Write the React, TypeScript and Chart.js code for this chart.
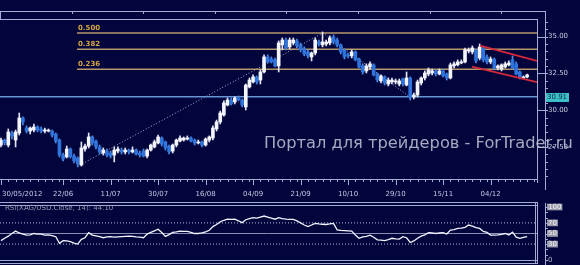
import React, { useEffect, useRef } from 'react';
import { Chart, registerables } from 'chart.js';

Chart.register(...registerables);

// ---------------- data ----------------
const opens = [
  27.63, 27.97, 27.63, 28.45, 27.97, 28.45, 29.47, 28.79, 28.58, 28.65,
  28.86, 28.72, 28.58, 28.58, 28.58, 28.38, 27.97, 26.95, 26.82, 27.36,
  26.88, 26.75, 26.27, 27.36, 27.56, 28.18, 27.90, 27.50, 27.09, 27.22,
  27.09, 26.95, 27.22, 27.29, 27.16, 27.29, 27.16, 27.29, 27.09, 27.22,
  26.88, 27.29, 27.50, 27.77, 28.11, 27.84, 27.56, 27.22, 27.63, 27.90,
  27.97, 28.04, 28.11, 27.97, 27.77, 27.84, 27.63, 27.97, 28.11, 28.72,
  29.20, 29.67, 30.35, 30.69, 30.56, 30.83, 30.69, 30.22, 31.58, 31.92,
  32.26, 32.05, 32.60, 33.62, 33.48, 33.42, 33.01, 34.44, 34.77, 34.30,
  34.57, 34.71, 34.44, 34.16, 33.96, 33.62, 33.89, 34.64, 34.44, 34.50,
  34.57, 34.98, 34.77, 34.44, 34.10, 33.76, 33.69, 33.96, 33.48, 33.01,
  32.67, 32.94, 33.08, 32.46, 31.99, 32.26, 31.78, 31.92, 31.92, 31.78,
  32.12, 31.71, 32.19, 30.90, 31.03, 31.85, 32.19, 32.46, 32.53, 32.67,
  32.46, 32.67, 32.46, 32.19, 33.01, 33.08, 33.21, 33.28, 34.03, 33.96,
  34.10, 33.55, 34.23, 33.62, 33.28, 33.48, 32.87, 32.80, 32.94, 33.08,
  33.42, 33.15, 32.60, 32.19, 32.26,
];
const highs = [
  28.11, 28.04, 28.72, 28.58, 28.65, 29.81, 29.54, 28.93, 28.86, 29.06,
  28.93, 28.86, 28.79, 28.72, 28.65, 28.45, 28.04, 27.09, 27.56, 27.43,
  27.02, 26.82, 27.84, 27.70, 28.45, 28.25, 27.97, 27.63, 27.43, 27.36,
  27.22, 27.50, 27.50, 27.43, 27.43, 27.36, 27.50, 27.36, 27.22, 27.36,
  27.36, 27.70, 27.97, 28.31, 28.18, 27.90, 27.63, 27.70, 28.04, 28.25,
  28.18, 28.25, 28.18, 28.04, 27.97, 27.90, 28.11, 28.25, 28.93, 29.33,
  29.94, 30.63, 30.83, 30.83, 30.90, 30.97, 30.76, 31.78, 32.19, 32.40,
  32.33, 32.74, 33.76, 33.76, 33.62, 33.55, 34.71, 34.91, 34.91, 34.91,
  34.91, 34.84, 34.57, 34.30, 34.10, 33.96, 34.91, 34.77, 35.32, 34.77,
  35.05, 35.12, 34.91, 34.50, 34.16, 33.89, 34.10, 34.03, 33.55, 33.15,
  33.15, 33.28, 33.15, 32.53, 32.40, 32.33, 32.19, 32.19, 32.12, 32.12,
  32.19, 32.60, 32.26, 31.17, 32.05, 32.26, 32.67, 32.87, 32.80, 32.74,
  32.80, 32.80, 32.53, 33.21, 33.28, 33.42, 33.42, 34.23, 34.23, 34.37,
  34.16, 34.50, 34.30, 33.76, 33.62, 33.55, 33.08, 33.15, 33.28, 33.35,
  33.69, 33.28, 32.67, 32.33, 32.46,
];
const lows = [
  27.50, 27.63, 27.50, 28.04, 27.50, 28.31, 28.99, 28.45, 28.38, 28.52,
  28.52, 28.45, 28.45, 28.52, 28.18, 27.77, 26.82, 26.55, 26.75, 26.75,
  26.41, 26.14, 26.20, 27.22, 27.43, 27.63, 27.36, 27.02, 26.95, 26.82,
  26.75, 26.48, 27.09, 27.02, 27.02, 27.02, 27.09, 26.95, 26.82, 26.82,
  26.75, 27.22, 27.43, 27.70, 27.56, 27.29, 27.02, 27.09, 27.50, 27.84,
  27.90, 27.97, 27.84, 27.63, 27.70, 27.50, 27.56, 27.84, 27.97, 28.58,
  29.06, 29.60, 30.29, 30.35, 30.42, 30.63, 30.22, 30.01, 31.51, 31.85,
  31.78, 31.78, 32.53, 33.21, 33.21, 32.94, 32.60, 34.10, 34.10, 34.16,
  34.44, 34.23, 33.96, 33.69, 33.55, 33.35, 33.76, 34.37, 34.30, 34.37,
  34.44, 34.50, 34.30, 33.82, 33.48, 33.55, 33.55, 33.35, 32.87, 32.46,
  32.53, 32.80, 32.33, 31.92, 31.85, 31.71, 31.65, 31.78, 31.78, 31.65,
  31.65, 31.65, 30.69, 30.76, 30.90, 31.71, 32.05, 32.33, 32.40, 32.33,
  32.40, 32.26, 32.05, 32.12, 32.87, 33.01, 33.15, 33.21, 33.89, 33.82,
  33.21, 33.42, 33.28, 33.15, 33.15, 32.74, 32.74, 32.67, 32.87, 33.01,
  32.80, 32.40, 32.12, 32.12, 32.19,
];
const closes = [
  27.97, 27.77, 28.52, 28.25, 28.52, 29.47, 29.20, 28.58, 28.79, 28.86,
  28.65, 28.58, 28.65, 28.65, 28.31, 27.90, 26.95, 26.68, 27.36, 26.82,
  26.55, 26.34, 27.43, 27.56, 28.18, 27.77, 27.50, 27.16, 27.29, 26.95,
  26.88, 27.29, 27.36, 27.16, 27.29, 27.16, 27.29, 27.02, 26.95, 26.88,
  27.29, 27.63, 27.84, 28.18, 27.70, 27.43, 27.16, 27.63, 27.97, 28.11,
  28.11, 28.11, 27.90, 27.77, 27.84, 27.63, 28.04, 28.18, 28.79, 29.20,
  29.81, 30.49, 30.69, 30.42, 30.83, 30.69, 30.35, 31.71, 32.05, 32.26,
  31.92, 32.60, 33.62, 33.28, 33.28, 33.01, 34.57, 34.77, 34.23, 34.77,
  34.77, 34.37, 34.10, 33.82, 33.69, 33.89, 34.77, 34.50, 34.64, 34.64,
  34.91, 34.64, 34.44, 33.96, 33.62, 33.69, 33.96, 33.42, 32.94, 32.60,
  33.01, 33.15, 32.40, 32.05, 32.33, 31.85, 32.05, 32.05, 31.99, 31.99,
  31.78, 32.19, 30.90, 31.03, 31.92, 32.19, 32.53, 32.74, 32.67, 32.46,
  32.67, 32.33, 32.19, 33.08, 33.15, 33.28, 33.28, 34.10, 34.10, 34.23,
  33.35, 34.30, 33.42, 33.28, 33.48, 32.87, 33.01, 33.08, 33.15, 33.21,
  32.87, 32.46, 32.26, 32.26, 32.40,
];
const rsiValues = [
  36.5, 41, 45, 50, 54.5, 51, 49, 47, 47.5, 50,
  49, 49, 47, 47.5, 46, 44, 31.5, 36.5, 36, 34.5,
  32, 30, 39, 42, 51.5, 47, 45.5, 44, 42, 43.5,
  44, 43, 43.5, 44, 44.5, 45, 44.5, 43.5, 43, 42,
  49, 52, 55, 58, 52, 44.5, 48, 52, 53, 54.5,
  54, 54, 52, 50, 50, 51, 53, 56, 63, 67,
  72, 75, 77, 76.5, 77, 74, 70.5, 76, 78, 80,
  79, 81, 83, 81, 79, 77, 80, 78, 77, 76.5,
  76.5, 74, 70, 66, 63, 66, 69, 68, 67.5, 67,
  68, 69, 57, 56, 55.5, 55, 54.5, 47, 41, 43.5,
  44.5, 47, 43, 38, 37.5, 36.5, 38.5, 41, 40, 39.5,
  44, 42, 33, 36, 41, 45, 47.5, 51.5, 51, 50,
  51, 51.5, 49, 56.5, 57.5, 59.5, 60, 61.5, 66, 64,
  61, 59.5, 54, 52, 47, 47, 47.5, 48.5, 50, 47,
  52.5, 43, 41, 42.5, 44.1,
];
const dateTickIndex = [0, 17, 30, 43, 56, 69, 82, 95, 108, 121, 134];
const dateTickLabels = ['30/05/2012', '22/06', '11/07', '30/07', '16/08', '04/09', '21/09', '10/10', '29/10', '15/11', '04/12'];
const priceTicks = [27.5, 30, 32.5, 35];
const rsiTicks = [0, 30, 50, 70, 100];
const rsiGuides = [70, 50, 30];
const fibLevels = [35.25, 34.14, 32.78];
const fibLabels = ['0.500', '0.382', '0.236'];
const fibStartIndex = 20.8;
const supportLevel = 30.91;
const swingUp = [{ x: 21.6, y: 26.27 }, { x: 88.1, y: 35.25 }];
const swingDown = [{ x: 88.1, y: 35.25 }, { x: 111.9, y: 30.9 }];
const channelUpper = [{ x: 131.1, y: 34.39 }, { x: 146.7, y: 33.35 }];
const channelLower = [{ x: 128.9, y: 32.96 }, { x: 146.7, y: 31.9 }];
const rsiTitle = 'RSI(XAG/USD.Close, 14): 44.10';
const watermark = 'Портал для трейдеров - ForTrader.ru';

// ---------------- layout / style ----------------
const X_MIN = -0.27;
const X_MAX = 146.7;
const PRICE_MIN = 25.32;
const PRICE_MAX = 36.2;
const RSI_MIN = 0;
const RSI_MAX = 103.8;
const BG = '#01053c';
const FRAME = '#a3abd4';
const FONT = "'DejaVu Sans', 'Liberation Sans', sans-serif";
const UP = '#f4f4fc';
const DOWN = '#2f74dc';
const UP_WICK = '#e4e4f4';
const DOWN_WICK = '#4d8ce8';

Chart.defaults.font.family = FONT;

function hline(ctx: CanvasRenderingContext2D, x1: number, x2: number, y: number) {
  const yy = Math.round(y) + 0.5;
  ctx.beginPath();
  ctx.moveTo(x1, yy);
  ctx.lineTo(x2, yy);
  ctx.stroke();
}
function vline(ctx: CanvasRenderingContext2D, x: number, y1: number, y2: number) {
  const xx = Math.round(x) + 0.5;
  ctx.beginPath();
  ctx.moveTo(xx, y1);
  ctx.lineTo(xx, y2);
  ctx.stroke();
}

const bgPlugin = {
  id: 'bgFill',
  beforeDraw(chart: any) {
    const c = chart.ctx;
    c.save();
    c.fillStyle = BG;
    c.fillRect(0, 0, chart.width, chart.height);
    c.restore();
  },
};

const mainDecor = {
  id: 'mainDecor',
  afterDraw(chart: any) {
    const { ctx, chartArea: a, scales } = chart;
    const x = scales.x;
    const y = scales.y;
    const axisX = a.right + 8;
    ctx.save();
    ctx.strokeStyle = FRAME;
    ctx.lineWidth = 1;
    // navigator strip
    hline(ctx, 0, axisX + 1, a.top - 8);
    vline(ctx, 0, a.top - 8, a.top);
    for (let k = 1; k <= 7; k++) {
      vline(ctx, a.left + ((a.right - a.left) * k) / 7.5, a.top - 8, a.top - 5);
    }
    hline(ctx, 0, a.right + 1, a.top);
    vline(ctx, a.right, a.top, a.bottom + 4);
    vline(ctx, axisX, a.top - 8, a.bottom + 11);
    hline(ctx, 0, a.right + 1, a.bottom);
    // date ticks
    dateTickIndex.forEach((idx, k) => {
      vline(ctx, x.getPixelForValue(idx), a.bottom, a.bottom + 6);
      const next = k + 1 < dateTickIndex.length ? dateTickIndex[k + 1] : X_MAX;
      for (let j = idx + 2; j < next - 0.5; j += 2) {
        vline(ctx, x.getPixelForValue(j), a.bottom, a.bottom + 3);
      }
    });
    // price axis ticks
    for (let v = 25.5; v <= 36; v += 0.5) {
      hline(ctx, axisX, axisX + 3, y.getPixelForValue(v));
    }
    priceTicks.forEach((v) => hline(ctx, a.right, axisX + 3, y.getPixelForValue(v)));
    // date labels
    ctx.fillStyle = '#c3c7e0';
    ctx.font = `7px ${FONT}`;
    ctx.textBaseline = 'middle';
    dateTickIndex.forEach((idx, k) => {
      const px = x.getPixelForValue(idx);
      ctx.textAlign = k === 0 ? 'left' : 'center';
      ctx.fillText(dateTickLabels[k], k === 0 ? px + 1 : px, a.bottom + 15);
    });
    // fib labels
    ctx.fillStyle = '#d9a441';
    ctx.font = `bold 7px ${FONT}`;
    ctx.textAlign = 'left';
    ctx.textBaseline = 'alphabetic';
    fibLevels.forEach((lv, k) => {
      ctx.fillText(fibLabels[k], x.getPixelForValue(fibStartIndex) + 1, y.getPixelForValue(lv) - 3);
    });
    // support label
    const sy = y.getPixelForValue(supportLevel);
    ctx.fillStyle = '#3cbfc6';
    ctx.fillRect(axisX + 1, Math.round(sy) - 4, 23, 9);
    ctx.fillStyle = '#0c2a52';
    ctx.font = `7px ${FONT}`;
    ctx.textBaseline = 'middle';
    ctx.fillText(supportLevel.toFixed(2), axisX + 2, Math.round(sy) + 0.5);
    // watermark
    ctx.font = `15px ${FONT}`;
    const w = ctx.measureText(watermark).width;
    const size = (15 * 309) / w;
    ctx.font = `${size.toFixed(2)}px ${FONT}`;
    ctx.fillStyle = 'rgba(196,198,214,0.85)';
    ctx.textBaseline = 'alphabetic';
    ctx.fillText(watermark, 264, 148);
    ctx.restore();
  },
};

const rsiDecor = {
  id: 'rsiDecor',
  afterDraw(chart: any) {
    const { ctx, chartArea: a, scales } = chart;
    const y = scales.y;
    const axisX = a.right + 8;
    ctx.save();
    ctx.strokeStyle = FRAME;
    ctx.lineWidth = 1;
    hline(ctx, 0, a.right + 1, a.top - 3);
    hline(ctx, 0, a.right + 1, a.top);
    hline(ctx, 0, a.right + 1, a.bottom);
    hline(ctx, 0, a.right + 1, a.bottom + 3);
    vline(ctx, a.right - 2, a.top - 3, a.bottom + 3);
    vline(ctx, a.right, a.top - 3, a.bottom + 3);
    vline(ctx, axisX, a.top - 2, chart.height);
    for (let v = 0; v <= 100; v += 10) hline(ctx, axisX, axisX + 3, y.getPixelForValue(v));
    ctx.fillStyle = '#9a9ab4';
    ctx.font = `7px ${FONT}`;
    ctx.textBaseline = 'middle';
    ctx.textAlign = 'left';
    ctx.fillText(rsiTitle, 5, a.top + 3);
    ctx.restore();
  },
};

function flatLine(x1: number, x2: number, v: number) {
  return [{ x: x1, y: v }, { x: x2, y: v }];
}

function mainConfig(): any {
  const upIdx = (i: number) => closes[i] >= opens[i];
  return {
    type: 'bar',
    data: {
      datasets: [
        { type: 'line', data: swingUp, borderColor: '#a9b0d6', borderWidth: 1, borderDash: [1, 2], pointRadius: 0, order: 5 },
        { type: 'line', data: swingDown, borderColor: '#a9b0d6', borderWidth: 1, borderDash: [1, 2], pointRadius: 0, order: 5 },
        ...fibLevels.map((lv) => ({
          type: 'line', data: flatLine(fibStartIndex, X_MAX, lv), borderColor: '#b8976a', borderWidth: 1.5, pointRadius: 0, order: 4,
        })),
        { type: 'line', data: flatLine(X_MIN, X_MAX, supportLevel), borderColor: '#6994d6', borderWidth: 1.5, pointRadius: 0, order: 4 },
        {
          type: 'bar',
          data: lows.map((l, i) => ({ x: i, y: [l, highs[i]] })),
          backgroundColor: lows.map((_, i) => (upIdx(i) ? UP_WICK : DOWN_WICK)),
          barThickness: 1, grouped: false, borderWidth: 0, order: 3,
        },
        {
          type: 'bar',
          data: opens.map((o, i) => ({ x: i, y: [o, closes[i]] })),
          backgroundColor: opens.map((_, i) => (upIdx(i) ? UP : DOWN)),
          barThickness: 3, grouped: false, borderWidth: 0, minBarLength: 1, order: 2,
        },
        { type: 'line', data: channelUpper, borderColor: '#d62a3c', borderWidth: 1.8, pointRadius: 0, order: 1 },
        { type: 'line', data: channelLower, borderColor: '#d62a3c', borderWidth: 1.8, pointRadius: 0, order: 1 },
      ],
    },
    options: {
      responsive: false,
      animation: false,
      events: [],
      devicePixelRatio: 1,
      layout: { padding: { top: 19, bottom: 21, left: 0, right: 0 } },
      plugins: { legend: { display: false }, tooltip: { enabled: false } },
      scales: {
        x: { type: 'linear', min: X_MIN, max: X_MAX, offset: false, display: false },
        y: {
          position: 'right',
          min: PRICE_MIN,
          max: PRICE_MAX,
          afterFit: (s: any) => { s.width = 43; s.paddingTop = 0; s.paddingBottom = 0; },
          afterBuildTicks: (s: any) => { s.ticks = priceTicks.map((v) => ({ value: v })); },
          grid: { display: false, drawTicks: false },
          border: { display: false },
          ticks: {
            padding: 11,
            color: '#c8cce2',
            font: { size: 7, family: FONT },
            callback: (v: any) => Number(v).toFixed(2),
          },
        },
      },
    },
    plugins: [bgPlugin, mainDecor],
  };
}

function rsiConfig(): any {
  return {
    type: 'line',
    data: {
      datasets: [
        ...rsiGuides.map((g) => ({
          data: flatLine(X_MIN, X_MAX, g),
          borderColor: g === 50 ? '#8a90b4' : '#b4b8da',
          borderDash: g === 50 ? [] : [1, 2],
          borderWidth: 1, pointRadius: 0, order: 2,
        })),
        {
          data: rsiValues.map((v, i) => ({ x: i, y: v })),
          borderColor: '#f4f4ff', borderWidth: 1.3, pointRadius: 0, tension: 0, order: 1,
        },
      ],
    },
    options: {
      responsive: false,
      animation: false,
      events: [],
      devicePixelRatio: 1,
      layout: { padding: { top: 5, bottom: 5, left: 0, right: 0 } },
      plugins: { legend: { display: false }, tooltip: { enabled: false } },
      scales: {
        x: { type: 'linear', min: X_MIN, max: X_MAX, display: false },
        y: {
          position: 'right',
          min: RSI_MIN,
          max: RSI_MAX,
          afterFit: (s: any) => { s.width = 43; s.paddingTop = 0; s.paddingBottom = 0; },
          afterBuildTicks: (s: any) => { s.ticks = rsiTicks.map((v) => ({ value: v })); },
          grid: { display: false, drawTicks: false },
          border: { display: false },
          ticks: {
            padding: 11,
            color: (c: any) => (c.tick && c.tick.value === 0 ? '#b4b4c8' : '#f2f2f8'),
            font: { size: 7, family: FONT, lineHeight: 0.95 },
            showLabelBackdrop: true,
            backdropColor: (c: any) => (c.tick && c.tick.value === 0 ? 'rgba(0,0,0,0)' : '#9d9dac'),
            backdropPadding: { top: 0, bottom: 0, left: 1, right: 1 },
            callback: (v: any) => String(v),
          },
        },
      },
    },
    plugins: [bgPlugin, rsiDecor],
  };
}

export default function App() {
  const mainRef = useRef<HTMLCanvasElement>(null);
  const rsiRef = useRef<HTMLCanvasElement>(null);
  useEffect(() => {
    const main = new Chart(mainRef.current as HTMLCanvasElement, mainConfig());
    const rsi = new Chart(rsiRef.current as HTMLCanvasElement, rsiConfig());
    return () => {
      main.destroy();
      rsi.destroy();
    };
  }, []);
  return (
    <div style={{ position: 'fixed', left: 0, top: 0, width: 580, height: 265, background: BG, overflow: 'hidden' }}>
      <canvas ref={mainRef} width={580} height={200} style={{ position: 'absolute', left: 0, top: 0, width: 580, height: 200 }} />
      <canvas ref={rsiRef} width={580} height={65} style={{ position: 'absolute', left: 0, top: 200, width: 580, height: 65 }} />
    </div>
  );
}
